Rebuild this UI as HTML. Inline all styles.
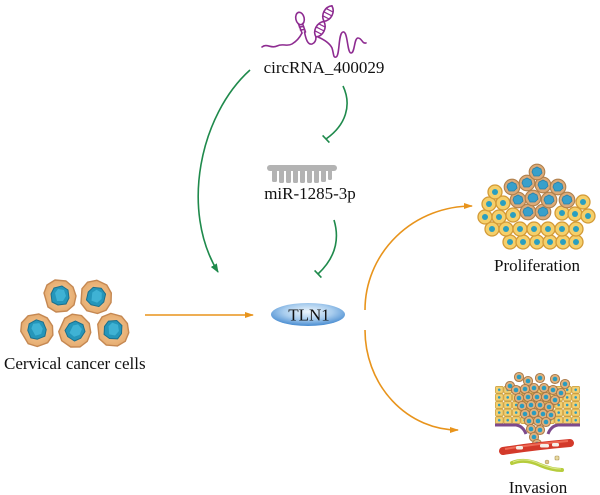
<!DOCTYPE html>
<html>
<head>
<meta charset="utf-8">
<style>
html,body{margin:0;padding:0;background:#fff;}
svg{display:block;}
text{font-family:"Liberation Serif",serif;fill:#111;}
</style>
</head>
<body>
<svg width="600" height="495" viewBox="0 0 600 495" xmlns="http://www.w3.org/2000/svg">
<defs>
  <marker id="ag" markerWidth="9" markerHeight="7" refX="8" refY="3.5" orient="auto" markerUnits="userSpaceOnUse">
    <path d="M0,0 L9,3.5 L0,7 Z" fill="#1f8a4c"/>
  </marker>
  <marker id="ao" markerWidth="9" markerHeight="7" refX="8" refY="3.5" orient="auto" markerUnits="userSpaceOnUse">
    <path d="M0,0.5 L9,3.5 L0,6.5 Z" fill="#e8941c"/>
  </marker>
  <radialGradient id="tln" cx="50%" cy="38%" r="60%">
    <stop offset="0" stop-color="#eef6fc"/>
    <stop offset="0.55" stop-color="#a9cdee"/>
    <stop offset="1" stop-color="#4d8fd2"/>
  </radialGradient>
  <radialGradient id="cellg" cx="50%" cy="50%" r="55%">
    <stop offset="0" stop-color="#f6cc9a"/>
    <stop offset="1" stop-color="#e4a96c"/>
  </radialGradient>
  <g id="ccell">
    <path d="M-16,-3 L-13,-11 L-5,-16 L6,-15 L13,-9 L16,0 L14,9 L7,15 L-4,16 L-12,11 Z" fill="url(#cellg)" stroke="#c58852" stroke-width="1.4" stroke-linejoin="round"/>
    <path d="M-9,-2 L-6,-8 L2,-10 L8,-6 L9,2 L6,8 L-2,9 L-8,6 Z" fill="#2596ba" stroke="#1b6f8c" stroke-width="1" stroke-linejoin="round"/>
    <path d="M-5,-3 L-2,-7 L4,-6 L6,0 L3,5 L-3,5 Z" fill="#3fb2d4" stroke-linejoin="round"/>
  </g>
  <g id="ycell">
    <circle r="7" fill="#f5cf6a" stroke="#d39a36" stroke-width="1.3"/>
    <circle r="3" fill="#2a9fc0"/>
  </g>
  <g id="bcell">
    <circle r="7.8" fill="#dcaa78" stroke="#b0804c" stroke-width="1.1"/>
    <path d="M-4,-3 L0,-5 L4,-3 L5,1 L2,4 L-3,4 L-5,0 Z" fill="#38a0cb" stroke="#2a80a8" stroke-width="0.8"/>
  </g>
  <g id="rcell">
    <circle r="4.6" fill="#dfb07c" stroke="#a87744" stroke-width="0.9"/>
    <circle r="2.3" fill="#2a9cc0"/>
  </g>
  <pattern id="tiles" x="495" y="386" width="8.5" height="7.6" patternUnits="userSpaceOnUse">
    <rect x="0.4" y="0.4" width="7.7" height="6.8" rx="1.2" fill="#f2cf72" stroke="#c99c3c" stroke-width="0.7"/>
    <circle cx="4.2" cy="3.8" r="1.3" fill="#2a9cc0"/>
  </pattern>
</defs>

<rect width="600" height="495" fill="#fff"/>

<!-- circRNA molecule -->
<g fill="none" stroke="#8e2c91" stroke-width="1.6" stroke-linecap="round" stroke-linejoin="round">
  <path d="M262,47 C267,43 271,49 277,46 C283,43 287,47 292,44 C297,41 300,37 302,33"/>
  <ellipse cx="300" cy="18.5" rx="4.2" ry="6.3" transform="rotate(-12 300 18.5)"/>
  <path d="M298.5,24 L302,33 M302.5,23.5 L305.5,32"/>
  <path d="M299.5,27 L303.5,26.5 M300.5,30 L304.5,29.5"/>
  <path d="M304.5,32 C306,40 308,45 312,44 C315,43 316,40 316,37"/>
  <g transform="translate(316,37) rotate(27)">
    <path d="M0,0 C6,-4 6,-13 0,-17.5 C-6,-22 -6,-31 0,-35"/>
    <path d="M0,0 C-6,-4 -6,-13 0,-17.5 C6,-22 6,-31 0,-35"/>
    <path d="M-3.5,-5 L3.5,-5 M-4.5,-9 L4.5,-9 M-3.5,-13 L3.5,-13 M-3.5,-22 L3.5,-22 M-4.5,-26 L4.5,-26 M-3.5,-30 L3.5,-30" stroke-width="1.2"/>
  </g>
  <path d="M318,37 C325,40 330,44 332,48 C334,54 333,58 336,57 C340,56 338,33 343,32 C348,31 347,53 351,53 C355,53 354,38 358,38 C362,38 362,44 366,43"/>
</g>
<text x="324" y="73" font-size="17" text-anchor="middle">circRNA_400029</text>

<!-- miRNA comb -->
<g fill="#b3b3b3">
  <rect x="267" y="165" width="70" height="6" rx="3"/>
  <rect x="272" y="170" width="5" height="12" rx="1.5"/>
  <rect x="279" y="170" width="5" height="13" rx="1.5"/>
  <rect x="286" y="170" width="5" height="13" rx="1.5"/>
  <rect x="293" y="170" width="5" height="13" rx="1.5"/>
  <rect x="300" y="170" width="5" height="13" rx="1.5"/>
  <rect x="307" y="170" width="5" height="13" rx="1.5"/>
  <rect x="314" y="170" width="5" height="13" rx="1.5"/>
  <rect x="321" y="170" width="5" height="12" rx="1.5"/>
  <rect x="328" y="170" width="4" height="10" rx="1.5"/>
</g>
<text x="310" y="199" font-size="17" text-anchor="middle">miR-1285-3p</text>

<!-- green connectors -->
<g fill="none" stroke="#1f8a4c" stroke-width="1.6">
  <path d="M250,70 C200,115 180,210 218,272" marker-end="url(#ag)"/>
  <path d="M343,86 C352,105 346,125 326,139"/>
  <path d="M322.6,135.4 L329.4,142.6"/>
  <path d="M334,220 C340,240 335,258 318,274"/>
  <path d="M314.6,270.4 L321.4,277.6"/>
</g>

<!-- TLN1 -->
<ellipse cx="308" cy="314.5" rx="37" ry="11.5" fill="url(#tln)"/>
<text x="309" y="320.5" font-size="17" text-anchor="middle">TLN1</text>

<!-- orange connectors -->
<g fill="none" stroke="#e8941c" stroke-width="1.6">
  <path d="M145,315 L253,315" marker-end="url(#ao)"/>
  <path d="M365,310 A107,104 0 0 1 472,206" marker-end="url(#ao)"/>
  <path d="M365,330 A93,100 0 0 0 458,430" marker-end="url(#ao)"/>
</g>

<!-- cervical cancer cells -->
<use href="#ccell" transform="translate(60,296)"/>
<use href="#ccell" transform="translate(96,297) rotate(20)"/>
<use href="#ccell" transform="translate(37,330) rotate(-15)"/>
<use href="#ccell" transform="translate(75,331) rotate(40)"/>
<use href="#ccell" transform="translate(113,330) rotate(10)"/>
<text x="4" y="369" font-size="17">Cervical cancer cells</text>

<!-- proliferation cluster -->
<g>
  <use href="#ycell" x="510" y="242"/><use href="#ycell" x="523" y="242"/><use href="#ycell" x="537" y="242"/><use href="#ycell" x="550" y="242"/><use href="#ycell" x="563" y="242"/><use href="#ycell" x="576" y="242"/>
  <use href="#ycell" x="492" y="229"/><use href="#ycell" x="506" y="229"/><use href="#ycell" x="520" y="229"/><use href="#ycell" x="534" y="229"/><use href="#ycell" x="548" y="229"/><use href="#ycell" x="562" y="229"/><use href="#ycell" x="576" y="229"/>
  <use href="#ycell" x="485" y="217"/><use href="#ycell" x="499" y="217"/><use href="#ycell" x="513" y="215"/><use href="#ycell" x="562" y="213"/><use href="#ycell" x="575" y="214"/><use href="#ycell" x="588" y="216"/>
  <use href="#ycell" x="489" y="204"/><use href="#ycell" x="503" y="203"/><use href="#ycell" x="583" y="202"/>
  <use href="#ycell" x="495" y="192"/>
  <use href="#bcell" x="528" y="212"/><use href="#bcell" x="543" y="212"/>
  <use href="#bcell" x="518" y="200"/><use href="#bcell" x="533" y="198"/><use href="#bcell" x="549" y="200"/><use href="#bcell" x="567" y="200"/>
  <use href="#bcell" x="512" y="187"/><use href="#bcell" x="527" y="183"/><use href="#bcell" x="543" y="185"/><use href="#bcell" x="558" y="187"/>
  <use href="#bcell" x="537" y="172"/>
</g>
<text x="537" y="271" font-size="17" text-anchor="middle">Proliferation</text>

<!-- invasion -->
<g>
  <rect x="495" y="386" width="85" height="38" fill="url(#tiles)"/>
  <path d="M495,425 L516,425 Q523,426 526,434" fill="none" stroke="#7d4a8c" stroke-width="3"/>
  <path d="M548,434 Q551,426 558,425 L580,425" fill="none" stroke="#7d4a8c" stroke-width="3"/>
  <use href="#rcell" x="519" y="377"/><use href="#rcell" x="528" y="381"/><use href="#rcell" x="540" y="378"/><use href="#rcell" x="555" y="379"/><use href="#rcell" x="565" y="384"/><use href="#rcell" x="510" y="386"/>
  <use href="#rcell" x="516" y="390"/><use href="#rcell" x="525" y="389"/><use href="#rcell" x="534" y="388"/><use href="#rcell" x="544" y="388"/><use href="#rcell" x="553" y="390"/><use href="#rcell" x="561" y="393"/>
  <use href="#rcell" x="519" y="398"/><use href="#rcell" x="528" y="397"/><use href="#rcell" x="537" y="397"/><use href="#rcell" x="546" y="397"/><use href="#rcell" x="555" y="400"/>
  <use href="#rcell" x="522" y="406"/><use href="#rcell" x="531" y="405"/><use href="#rcell" x="540" y="405"/><use href="#rcell" x="549" y="407"/>
  <use href="#rcell" x="525" y="414"/><use href="#rcell" x="534" y="413"/><use href="#rcell" x="543" y="414"/><use href="#rcell" x="551" y="415"/>
  <use href="#rcell" x="529" y="421"/><use href="#rcell" x="538" y="421"/><use href="#rcell" x="546" y="422"/>
  <use href="#rcell" x="531" y="429"/><use href="#rcell" x="540" y="430"/>
  <use href="#rcell" x="534" y="437"/><use href="#rcell" x="537" y="444"/>
  <path d="M503,451 Q535,446 570,443" fill="none" stroke="#d3392a" stroke-width="8" stroke-linecap="round"/>
  <path d="M505,449 Q535,444 568,441" fill="none" stroke="#ee6a55" stroke-width="2"/>
  <rect x="516" y="446" width="7" height="3.5" rx="1.5" fill="#f4f0e8"/>
  <rect x="540" y="444" width="9" height="3.5" rx="1.5" fill="#f4f0e8"/>
  <rect x="552" y="443" width="7" height="3.5" rx="1.5" fill="#f4f0e8"/>
  <path d="M512,463 Q525,458 540,465 Q552,470 562,470" fill="none" stroke="#b6cc3c" stroke-width="4" stroke-linecap="round"/>
  <path d="M513,462 Q525,457 540,464 Q552,469 561,469" fill="none" stroke="#dbe88a" stroke-width="1"/>
  <rect x="555" y="456" width="4" height="4" rx="1" fill="#e8d9a0" stroke="#a89050" stroke-width="0.6"/>
  <circle cx="547" cy="462" r="2" fill="#e0c890" stroke="#a89050" stroke-width="0.5"/>
</g>
<text x="538" y="493" font-size="17" text-anchor="middle">Invasion</text>
</svg>
</body>
</html>
